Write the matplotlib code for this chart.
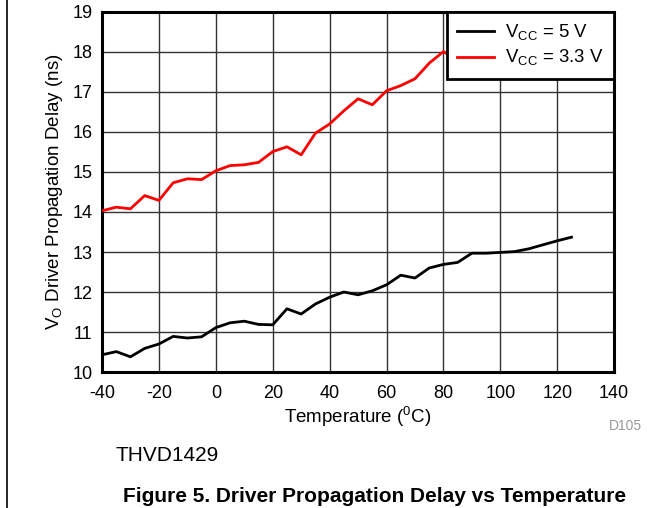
import matplotlib.pyplot as plt
from matplotlib.lines import Line2D

plt.rcParams['font.family'] = ['Liberation Sans', 'DejaVu Sans']
plt.rcParams['axes.unicode_minus'] = False

temp = [-40, -35, -30, -25, -20, -15, -10, -5, 0, 5, 10, 15, 20, 25, 30, 35, 40,
        45, 50, 55, 60, 65, 70, 75, 80, 85, 90, 95, 100, 105, 110, 115, 120, 125]
vcc5 = [10.43, 10.51, 10.38, 10.59, 10.70, 10.89, 10.85, 10.88, 11.11, 11.23, 11.27, 11.19,
        11.18, 11.58, 11.45, 11.70, 11.87, 12.00, 11.93, 12.03, 12.18, 12.42, 12.35, 12.60,
        12.69, 12.74, 12.97, 12.97, 12.99, 13.01, 13.08, 13.18, 13.28, 13.37]
vcc33 = [14.03, 14.12, 14.08, 14.41, 14.29, 14.73, 14.83, 14.81, 15.03, 15.16, 15.18, 15.24,
         15.51, 15.63, 15.43, 15.97, 16.20, 16.53, 16.83, 16.68, 17.03, 17.16, 17.33, 17.72,
         18.01, 17.80, 17.95, 18.05, 18.15, 18.25, 18.35, 18.45, 18.55, 18.65]

fig = plt.figure(figsize=(6.69, 5.08), dpi=100)
ax = fig.add_axes([0.1525, 0.2677, 0.7655, 0.7087])

ax.plot(temp, vcc5, color='black', lw=2, label='V$_{\\mathregular{CC}}$ = 5 V', zorder=3)
ax.plot(temp, vcc33, color='red', lw=2, label='V$_{\\mathregular{CC}}$ = 3.3 V', zorder=3)

ax.set_xlim(-40, 140)
ax.set_ylim(10, 19)
ax.set_xticks(range(-40, 141, 20))
ax.set_yticks(range(10, 20))
ax.grid(True, color='#333333', lw=1)
ax.tick_params(length=0, pad=9, labelsize=13)
ax.tick_params(axis='y', pad=7)
for s in ax.spines.values():
    s.set_linewidth(2.2)
    s.set_color('black')

ax.set_xlabel('Temperature ($^{\\mathregular{0}}$C)', fontsize=13.5, labelpad=2)
ax.set_ylabel('V$_{\\mathregular{O}}$ Driver Propagation Delay (ns)', fontsize=13.5, labelpad=5)

leg = ax.legend(loc='upper right', bbox_to_anchor=(1, 1), borderaxespad=0, fontsize=13.4,
                fancybox=False, framealpha=1, edgecolor='black', handlelength=2.0,
                handletextpad=0.6, labelspacing=0.3, borderpad=0.55)
leg.get_frame().set_linewidth(2)
leg.set_zorder(5)

fig.text(0.9345, 0.154, 'D105', fontsize=10, color='#999999', ha='center')
fig.text(0.172, 0.093, 'THVD1429', fontsize=15)
fig.text(0.56, 0.012, 'Figure 5. Driver Propagation Delay vs Temperature',
         fontsize=15, fontweight='bold', ha='center')
fig.add_artist(Line2D([0.0105, 0.0105], [0, 1], color='black', lw=1.2))

fig.savefig('out.png', dpi=100)
